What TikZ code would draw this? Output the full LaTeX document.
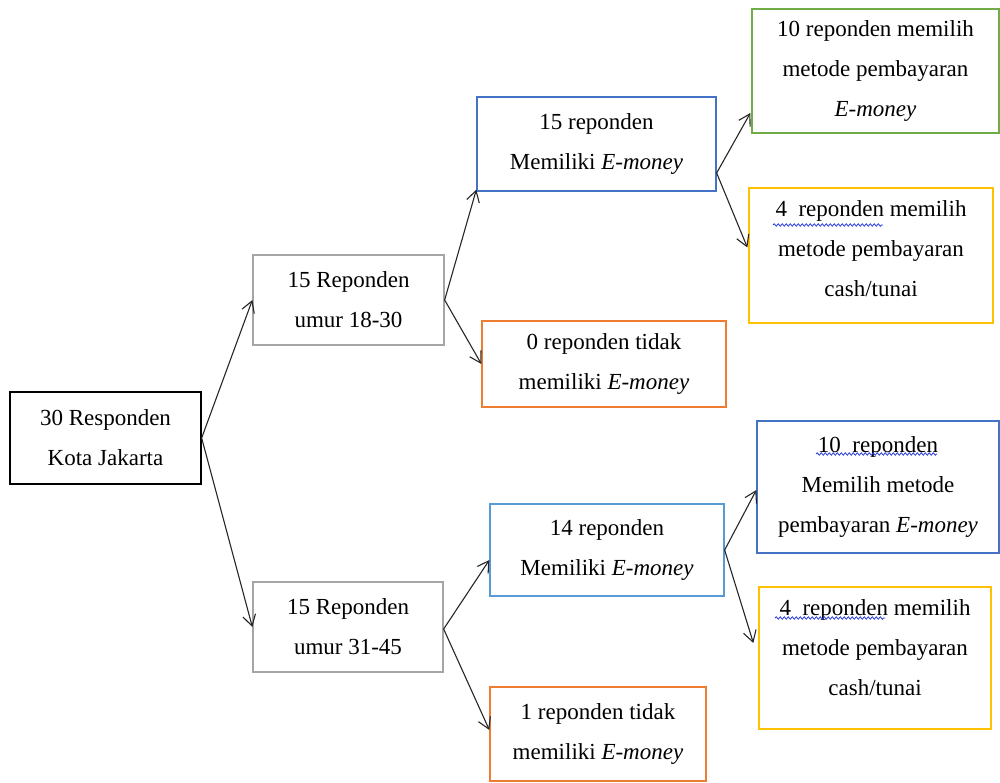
\documentclass[tikz,border=0pt]{standalone}
\usepackage{fontspec}
\setmainfont{Liberation Serif}
\usetikzlibrary{arrows.meta,decorations.pathmorphing}
\definecolor{cgray}{RGB}{165,165,165}
\definecolor{cblue}{RGB}{68,114,196}
\definecolor{clblue}{RGB}{91,155,213}
\definecolor{corange}{RGB}{237,125,49}
\definecolor{cgreen}{RGB}{112,173,71}
\definecolor{cyellow}{RGB}{255,192,0}
\definecolor{cwave}{RGB}{40,60,220}
\tikzset{
  box/.style={draw, line width=1.3pt, align=center, inner sep=0pt,
    font=\fontsize{23}{40}\selectfont},
  arr/.style={-{Straight Barb[length=11pt,width=13pt]}, line width=1.1pt, black!85},
  wav/.style={cwave, line width=0.8pt, decorate,
    decoration={snake, amplitude=1.2pt, segment length=4pt}}
}
\begin{document}
\begin{tikzpicture}[x=1pt,y=-1pt]
\useasboundingbox (0,0) rectangle (1000,783);
\node[box, draw=black, minimum width=191pt, minimum height=92pt] (root) at (105.5,438) {30 Responden\\Kota Jakarta};
\node[box, draw=cgray, minimum width=191pt, minimum height=90pt] (A) at (348.5,300) {15 Reponden\\umur 18-30};
\node[box, draw=cgray, minimum width=190pt, minimum height=90pt] (B) at (348,627) {15 Reponden\\umur 31-45};
\node[box, draw=cblue, minimum width=239pt, minimum height=94pt] (A1) at (596.5,144) {15 reponden\\Memiliki \textit{E-money}};
\node[box, draw=corange, minimum width=244pt, minimum height=86pt] (A2) at (604,364) {0 reponden tidak\\memiliki \textit{E-money}};
\node[box, draw=clblue, minimum width=234pt, minimum height=92pt] (B1) at (607,550) {14 reponden\\Memiliki \textit{E-money}};
\node[box, draw=corange, minimum width=216pt, minimum height=94pt] (B2) at (598,734) {1 reponden tidak\\memiliki \textit{E-money}};
\node[box, draw=cgreen, minimum width=247pt, minimum height=124pt] (A1a) at (875.5,71) {10 reponden memilih\\metode pembayaran\\\textit{E-money}};
\node[box, draw=cyellow, minimum width=244pt, minimum height=135pt] (A1b) at (871,255.5) {4\ \ reponden memilih\\metode pembayaran\\cash/tunai\\[-26pt]};
\node[box, draw=cblue, minimum width=242pt, minimum height=132pt] (B1a) at (878,487) {10\ \ reponden\\Memilih metode\\pembayaran \textit{E-money}};
\node[box, draw=cyellow, minimum width=232pt, minimum height=142pt] (B1b) at (875,658) {4\ \ reponden memilih\\metode pembayaran\\cash/tunai\\[-20pt]};
% connectors
\draw[arr] (root.east) -- (A.west);
\draw[arr] (root.east) -- (B.west);
\draw[arr] (A.east) -- ([yshift=2pt]A1.south west);
\draw[arr] (A.east) -- (A2.west);
\draw[arr] ([yshift=-2pt]B.east) -- ([yshift=-10pt]B1.west);
\draw[arr] ([yshift=-2pt]B.east) -- ([yshift=4pt]B2.west);
\draw[arr] ([yshift=-29pt]A1.east) -- ([yshift=-42pt,xshift=-1pt]A1a.west);
\draw[arr] ([yshift=-29pt]A1.east) -- ([yshift=8pt,xshift=-1pt]A1b.west);
\draw[arr] (B1.east) -- ([yshift=-3pt]B1a.west);
\draw[arr] (B1.east) -- ([yshift=15pt,xshift=-5pt]B1b.west);
% spell-check underlines
\draw[wav] (773,225) -- (883,225);
\draw[wav] (775,618) -- (885,618);
\draw[wav] (816,454) -- (937,454);
\end{tikzpicture}
\end{document}
